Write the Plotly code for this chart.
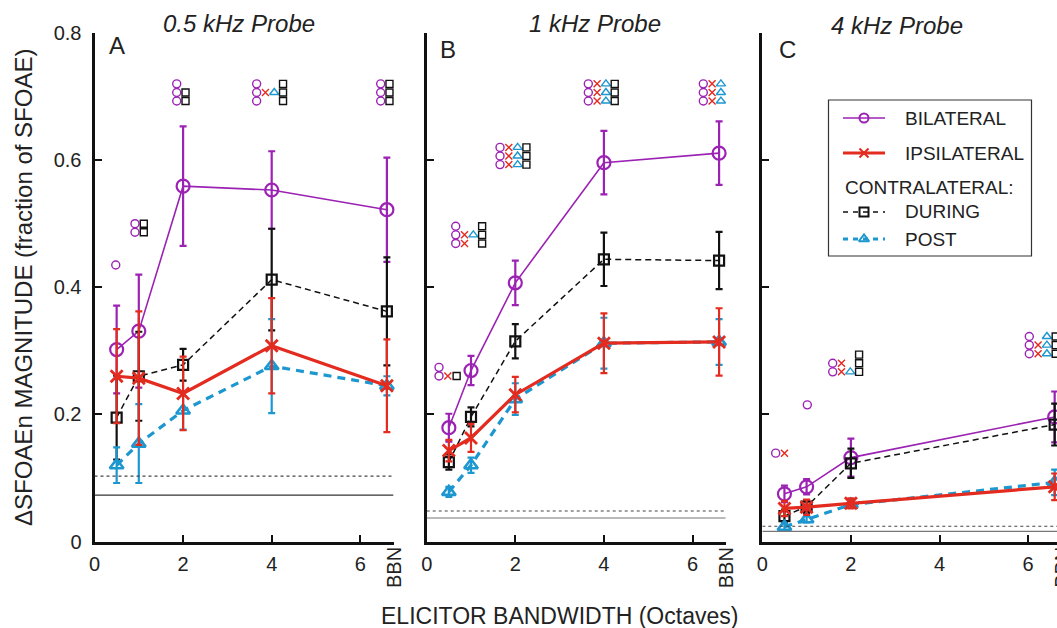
import plotly.graph_objects as go

# ---------------- data ----------------
x_ab = [0.5, 1, 2, 4, 6.6]
x_c = [0.5, 1, 2, 6.6]

a_bil = [0.302, 0.331, 0.559, 0.553, 0.522]
a_bil_err = [0.069, 0.089, 0.094, 0.061, 0.082]
a_ipsi = [0.260, 0.257, 0.233, 0.308, 0.245]
a_ipsi_err = [0.074, 0.105, 0.058, 0.075, 0.073]
a_dur = [0.195, 0.260, 0.278, 0.412, 0.362]
a_dur_err = [0.066, 0.070, 0.025, 0.080, 0.085]
a_post = [0.120, 0.154, 0.206, 0.276, 0.245]
a_post_err = [0.028, 0.062, 0.030, 0.074, 0.015]

b_bil = [0.179, 0.269, 0.407, 0.596, 0.611]
b_bil_err = [0.022, 0.023, 0.035, 0.050, 0.050]
b_ipsi = [0.143, 0.163, 0.231, 0.312, 0.314]
b_ipsi_err = [0.017, 0.022, 0.028, 0.047, 0.053]
b_dur = [0.125, 0.196, 0.315, 0.444, 0.442]
b_dur_err = [0.012, 0.015, 0.027, 0.042, 0.045]
b_post = [0.078, 0.120, 0.224, 0.312, 0.314]
b_post_err = [0.008, 0.012, 0.025, 0.040, 0.036]

c_bil = [0.075, 0.086, 0.132, 0.196]
c_bil_err = [0.013, 0.012, 0.030, 0.040]
c_ipsi = [0.052, 0.054, 0.060, 0.086]
c_ipsi_err = [0.012, 0.012, 0.008, 0.021]
c_dur = [0.040, 0.055, 0.123, 0.184]
c_dur_err = [0.010, 0.010, 0.023, 0.033]
c_post = [0.023, 0.035, 0.058, 0.093]
c_post_err = [0.005, 0.005, 0.005, 0.020]

# noise-floor reference levels (dotted, solid)
a_ref = [0.103, 0.073]
b_ref = [0.048, 0.037]
c_ref = [0.024, 0.016]

# significance symbol groups: (x, y of top row, rows) ; o=bilateral x=ipsi t=post s=during
a_sig = [(0.48, 0.435, ["o"]),
         (0.914, 0.500, ["os", "os"]),
         (1.856, 0.720, ["o", "os", "os"]),
         (3.66, 0.720, ["o  s", "oxts", "o  s"]),
         (6.46, 0.720, ["os", "os", "os"])]
b_sig = [(0.278, 0.274, ["o", "oxs"]),
         (0.655, 0.496, ["o  s", "oxts", "ox s"]),
         (1.655, 0.620, ["oxts", "oxts", "oxts"]),
         (3.648, 0.720, ["oxts", "oxts", "oxts"]),
         (6.244, 0.720, ["oxts", "oxts", "oxts"])]
c_sig = [(0.302, 0.139, ["ox"]),
         (1.016, 0.215, ["o"]),
         (1.589, 0.294, ["   s", "ox s", "oxts"]),
         (6.027, 0.3225, ["o ts", "oxts", "oxts"])]

panel_titles = ["0.5 kHz Probe", "1 kHz Probe", "4 kHz Probe"]
panel_letters = ["A", "B", "C"]
y_ticks = [0, 0.2, 0.4, 0.6, 0.8]
y_ticktext = ["0", "0.2", "0.4", "0.6", "0.8"]
x_ticks = [0, 2, 4, 6]
legend_names = ["BILATERAL", "IPSILATERAL", "CONTRALATERAL:", "DURING", "POST"]

# ---------------- style ----------------
W, H = 1057, 628
FONT = "Liberation Sans, Arial, Helvetica, sans-serif"
PURPLE = "#9b22b3"
RED = "#e32b1f"
BLACK = "#111111"
CYAN = "#1c97d0"

styles = {
    "bil": dict(color=PURPLE, width=1.6, dash="solid", symbol="circle-open", size=13, mlw=2.2),
    "dur": dict(color=BLACK, width=1.5, dash="6px,4px", symbol="square-open", size=10, mlw=2.2),
    "post": dict(color=CYAN, width=3.2, dash="8px,6px", symbol="triangle-up-open", size=12, mlw=2.6),
    "ipsi": dict(color=RED, width=3.2, dash="solid", symbol="x-thin-open", size=12, mlw=2.8),
}
sig_style = {
    "o": dict(color=PURPLE, symbol="circle-open", size=8, col=0),
    "x": dict(color=RED, symbol="x-thin-open", size=7, col=1),
    "t": dict(color=CYAN, symbol="triangle-up-open", size=8, col=2),
    "s": dict(color=BLACK, symbol="square-open", size=7, col=3),
}

# pixel geometry of panels
px_per_x = 44.3
y_pix0, y_pix1 = 541.5, 33.0
px_per_y = (y_pix0 - y_pix1) / 0.8
panels = [
    dict(x0=94.5, xmax=6.75, data=dict(bil=(x_ab, a_bil, a_bil_err), dur=(x_ab, a_dur, a_dur_err),
                                        post=(x_ab, a_post, a_post_err), ipsi=(x_ab, a_ipsi, a_ipsi_err)),
         ref=a_ref, sig=a_sig, title_xy=(238.7, 23), letter_xy=(117, 46), ref_color="#333333"),
    dict(x0=426.7, xmax=6.75, data=dict(bil=(x_ab, b_bil, b_bil_err), dur=(x_ab, b_dur, b_dur_err),
                                         post=(x_ab, b_post, b_post_err), ipsi=(x_ab, b_ipsi, b_ipsi_err)),
         ref=b_ref, sig=b_sig, title_xy=(595, 23), letter_xy=(448.4, 50), ref_color="#777777"),
    dict(x0=762.3, xmax=(W - 762.3) / px_per_x, data=dict(bil=(x_c, c_bil, c_bil_err), dur=(x_c, c_dur, c_dur_err),
                                                         post=(x_c, c_post, c_post_err), ipsi=(x_c, c_ipsi, c_ipsi_err)),
         ref=c_ref, sig=c_sig, title_xy=(897, 25), letter_xy=(787, 49), ref_color="#777777"),
]

fig = go.Figure()
annotations = []
shapes = []
dx = 8.8 / px_per_x
dy = 8.6 / px_per_y

for i, p in enumerate(panels):
    n = "" if i == 0 else str(i + 1)
    xa, ya = "x" + n, "y" + n
    for key in ["bil", "dur", "post", "ipsi"]:
        xs, ys, es = p["data"][key]
        s = styles[key]
        fig.add_trace(go.Scatter(
            x=xs, y=ys, xaxis=xa, yaxis=ya, mode="lines+markers", showlegend=False,
            line=dict(color=s["color"], width=s["width"], dash=s["dash"]),
            marker=dict(symbol=s["symbol"], size=s["size"], color=s["color"],
                        line=dict(color=s["color"], width=s["mlw"])),
            error_y=dict(type="data", array=es, visible=True, color=s["color"],
                         thickness=2.2, width=3.5),
            cliponaxis=False,
        ))
    # significance symbols
    for ch, ss in sig_style.items():
        sx, sy = [], []
        for gx, gy, rows in p["sig"]:
            for r, row in enumerate(rows):
                for c, k in enumerate(row):
                    if k == ch:
                        sx.append(gx + c * dx)
                        sy.append(gy - r * dy)
        if sx:
            fig.add_trace(go.Scatter(
                x=sx, y=sy, xaxis=xa, yaxis=ya, mode="markers", showlegend=False,
                marker=dict(symbol=ss["symbol"], size=ss["size"], color=ss["color"],
                            line=dict(color=ss["color"], width=1.4)),
                cliponaxis=False,
            ))
    # reference lines
    shapes.append(dict(type="line", xref=xa, yref=ya, x0=0, x1=p["xmax"], y0=p["ref"][0], y1=p["ref"][0],
                       line=dict(color="#444444", width=1.2, dash="dot")))
    shapes.append(dict(type="line", xref=xa, yref=ya, x0=0, x1=p["xmax"], y0=p["ref"][1], y1=p["ref"][1],
                       line=dict(color=p["ref_color"], width=1.2)))
    # axes
    x_dom = [p["x0"] / W, min(1.0, (p["x0"] + p["xmax"] * px_per_x) / W)]
    fig.layout["xaxis" + n] = dict(
        domain=x_dom, range=[0, p["xmax"]], anchor=ya, automargin=False,
        tickvals=x_ticks + [6.75], ticktext=[str(v) for v in x_ticks] + [""],
        ticks="inside", ticklen=7, tickwidth=2, tickcolor=BLACK,
        showline=True, linecolor=BLACK, linewidth=3, showgrid=False, zeroline=False,
        tickfont=dict(family=FONT, size=20, color="#222222"), ticklabelstandoff=2,
    )
    fig.layout["yaxis" + n] = dict(
        domain=[1 - y_pix0 / H, 1 - y_pix1 / H], range=[0, 0.8], anchor=xa, automargin=False,
        tickvals=y_ticks, ticktext=y_ticktext, showticklabels=(i == 0),
        ticks="inside", ticklen=7, tickwidth=2, tickcolor=BLACK,
        showline=True, linecolor=BLACK, linewidth=3, showgrid=False, zeroline=False,
        tickfont=dict(family=FONT, size=20, color="#222222"), ticklabelstandoff=6,
    )
    # titles, letters, BBN
    tx, ty = p["title_xy"]
    annotations.append(dict(text="<i>" + panel_titles[i] + "</i>", x=tx / W, y=1 - ty / H, xref="paper",
                            yref="paper", showarrow=False, xanchor="center", yanchor="middle",
                            font=dict(family=FONT, size=24, color="#222222")))
    lx, ly = p["letter_xy"]
    annotations.append(dict(text=panel_letters[i], x=lx / W, y=1 - ly / H, xref="paper", yref="paper",
                            showarrow=False, xanchor="center", yanchor="middle",
                            font=dict(family=FONT, size=24, color="#222222")))
    annotations.append(dict(text="BBN", x=(p["x0"] + 6.75 * px_per_x) / W, y=1 - 567.5 / H, xref="paper",
                            yref="paper", showarrow=False, textangle=-90, xanchor="center", yanchor="middle",
                            font=dict(family=FONT, size=20, color="#222222")))

# axis titles
annotations.append(dict(text="ΔSFOAEn MAGNITUDE (fraction of SFOAE)", x=23 / W, y=1 - 288 / H, xref="paper",
                        yref="paper", showarrow=False, textangle=-90, xanchor="center", yanchor="middle",
                        font=dict(family=FONT, size=24, color="#222222")))
annotations.append(dict(text="ELICITOR BANDWIDTH (Octaves)", x=559.5 / W, y=1 - 616 / H, xref="paper",
                        yref="paper", showarrow=False, xanchor="center", yanchor="middle",
                        font=dict(family=FONT, size=23, color="#222222")))

# ---------------- manual legend on a pixel-coordinate overlay ----------------
fig.layout["xaxis4"] = dict(domain=[0, 1], range=[0, W], visible=False, anchor="y4", fixedrange=True,
                            automargin=False)
fig.layout["yaxis4"] = dict(domain=[0, 1], range=[H, 0], visible=False, anchor="x4", fixedrange=True,
                            automargin=False)
shapes.append(dict(type="rect", xref="paper", yref="paper", x0=828.5 / W, x1=1031.5 / W,
                   y0=1 - 256 / H, y1=1 - 100 / H, line=dict(color="#333333", width=1.2),
                   fillcolor="white", layer="below"))
leg_rows = [("bil", 118), ("ipsi", 153), (None, 187), ("dur", 212), ("post", 239)]
leg_line_w = {"bil": 1.6, "ipsi": 3.2, "dur": 1.5, "post": 3.2}
leg_dash = {"bil": "solid", "ipsi": "solid", "dur": "5px,5px", "post": "5px,5px"}
for (key, ly), name in zip(leg_rows, legend_names):
    if key is None:
        annotations.append(dict(text=name, x=843 / W, y=1 - ly / H, xref="paper", yref="paper",
                                showarrow=False, xanchor="left", yanchor="middle",
                                font=dict(family=FONT, size=19, color="#222222")))
        continue
    s = styles[key]
    fig.add_trace(go.Scatter(x=[843, 885], y=[ly, ly], xaxis="x4", yaxis="y4", mode="lines",
                             showlegend=False, hoverinfo="skip",
                             line=dict(color=s["color"], width=leg_line_w[key], dash=leg_dash[key])))
    fig.add_trace(go.Scatter(x=[864], y=[ly], xaxis="x4", yaxis="y4", mode="markers",
                             showlegend=False, hoverinfo="skip",
                             marker=dict(symbol=s["symbol"], size=9, color=s["color"],
                                         line=dict(color=s["color"], width=2))))
    annotations.append(dict(text=name, x=903 / W, y=1 - ly / H, xref="paper", yref="paper",
                            showarrow=False, xanchor="left", yanchor="middle",
                            font=dict(family=FONT, size=19, color="#222222")))

fig.update_layout(
    width=W, height=H, autosize=False,
    margin=dict(l=0, r=0, t=0, b=0, pad=0),
    paper_bgcolor="white", plot_bgcolor="rgba(0,0,0,0)",
    showlegend=False, annotations=annotations, shapes=shapes,
    font=dict(family=FONT, color="#222222"),
)

fig.write_html("out.html", config={"displayModeBar": False},
               post_script="document.body.style.margin='0';document.body.style.overflow='hidden';")
